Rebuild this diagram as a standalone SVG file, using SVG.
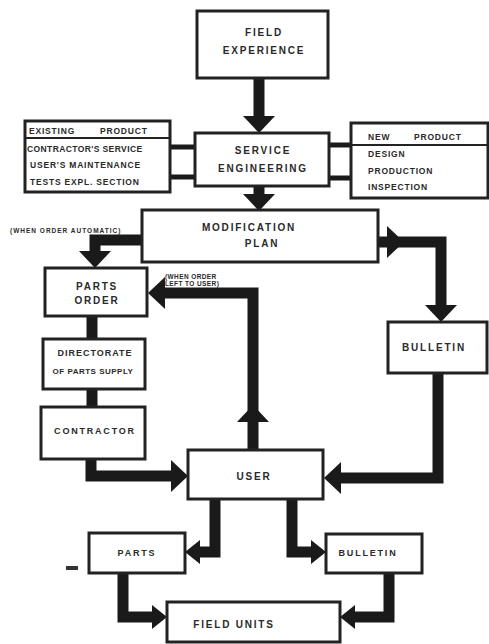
<svg xmlns="http://www.w3.org/2000/svg" xmlns:xlink="http://www.w3.org/1999/xlink" width="489" height="644" viewBox="0 0 489 644">
<style>
.box{fill:#fff;stroke:#222;stroke-width:3}
.t{font-family:"Liberation Sans",Arial,sans-serif;font-weight:bold;fill:#2a2a2a;font-size:10px;letter-spacing:1.8px;text-anchor:middle}
.s{font-family:"Liberation Sans",Arial,sans-serif;font-weight:bold;fill:#2a2a2a;font-size:8.5px;letter-spacing:0.8px}
.n{font-family:"Liberation Sans",Arial,sans-serif;font-weight:bold;fill:#2a2a2a;font-size:6.5px;letter-spacing:0.4px}
.c{fill:none;stroke:#1a1a1a;stroke-width:11;stroke-linejoin:miter}
.l{fill:none;stroke:#1a1a1a;stroke-width:5}
.h{fill:#1a1a1a}
</style>
<defs>
<path id="ah" d="M0,0 L-17,-16 L-17,16 Z"/>
<path id="ahs" d="M0,0 L-15,-12 L-15,12 Z"/>
</defs>
<rect width="489" height="644" fill="#fff"/>
<g id="connectors">
<path class="c" d="M259,78 V118"/>
<use href="#ah" class="h" transform="translate(259,133) rotate(90)"/>
<path class="c" d="M259,186 V196"/>
<use href="#ah" class="h" transform="translate(259,211) rotate(90)"/>
<path class="l" d="M168,147 H196 M168,177 H196"/>
<path class="l" d="M329,145 H352 M329,178 H352"/>
<path class="c" d="M143,240 H95 V253"/>
<use href="#ah" class="h" transform="translate(95,268) rotate(90)"/>
<path class="c" d="M377,242 H441 V307"/>
<use href="#ah" class="h" transform="translate(404,242)"/>
<use href="#ah" class="h" transform="translate(441,322) rotate(90)"/>
<path class="c" d="M253,450 V293 H163"/>
<use href="#ah" class="h" transform="translate(148,293) rotate(180)"/>
<use href="#ah" class="h" transform="translate(253,405) rotate(-90)"/>
<path class="c" d="M92,316 V339"/>
<path class="c" d="M92,389 V407"/>
<path class="c" d="M91,459 V476 H173"/>
<use href="#ah" class="h" transform="translate(188,476)"/>
<path class="c" d="M438,372 V478 H340"/>
<use href="#ah" class="h" transform="translate(324,478) rotate(180)"/>
<path class="c" d="M215,499 V552 H199"/>
<use href="#ahs" class="h" transform="translate(185,552) rotate(180)"/>
<path class="c" d="M292,499 V552 H312"/>
<use href="#ahs" class="h" transform="translate(326,552)"/>
<path class="c" d="M123,573 V617 H153"/>
<use href="#ahs" class="h" transform="translate(167,617)"/>
<path class="c" d="M389,573 V617 H354"/>
<use href="#ahs" class="h" transform="translate(340,617) rotate(180)"/>
<rect x="66" y="566" width="12" height="4" fill="#333"/>
</g>
<g id="field-experience">
<rect class="box" x="197" y="11" width="131" height="67"/>
<text class="t" x="264" y="36">FIELD</text>
<text class="t" x="264" y="54">EXPERIENCE</text>
</g>
<g id="existing-product">
<rect class="box" x="25" y="121" width="145" height="71"/>
<line x1="25" y1="138" x2="170" y2="138" stroke="#222" stroke-width="2"/>
<text class="s" x="29" y="134">EXISTING</text>
<text class="s" x="100" y="134">PRODUCT</text>
<text class="s" x="27" y="152" style="letter-spacing:0.4px">CONTRACTOR'S SERVICE</text>
<text class="s" x="30" y="168">USER'S MAINTENANCE</text>
<text class="s" x="30" y="185">TESTS EXPL. SECTION</text>
</g>
<g id="service-engineering">
<rect class="box" x="195" y="133" width="134" height="53"/>
<text class="t" x="263" y="154">SERVICE</text>
<text class="t" x="263" y="172">ENGINEERING</text>
</g>
<g id="new-product">
<rect class="box" x="351" y="123" width="137" height="75"/>
<line x1="351" y1="145" x2="488" y2="145" stroke="#222" stroke-width="2"/>
<text class="s" x="368" y="140">NEW</text>
<text class="s" x="414" y="140">PRODUCT</text>
<text class="s" x="368" y="157">DESIGN</text>
<text class="s" x="368" y="174">PRODUCTION</text>
<text class="s" x="368" y="190">INSPECTION</text>
</g>
<g id="modification-plan">
<rect class="box" x="142" y="210" width="236" height="52"/>
<text class="t" x="249" y="231">MODIFICATION</text>
<text class="t" x="262" y="247">PLAN</text>
<text class="n" x="10" y="233" style="letter-spacing:1px">(WHEN ORDER AUTOMATIC)</text>
</g>
<g id="parts-order">
<rect class="box" x="45" y="268" width="102" height="48"/>
<text class="t" x="97" y="290">PARTS</text>
<text class="t" x="97" y="304">ORDER</text>
<text class="n" x="165" y="279">(WHEN ORDER</text>
<text class="n" x="165" y="286">LEFT TO USER)</text>
</g>
<g id="directorate">
<rect class="box" x="43" y="339" width="102" height="50"/>
<text class="t" x="95" y="356" style="font-size:9px;letter-spacing:1px">DIRECTORATE</text>
<text class="t" x="93" y="374" style="font-size:8px;letter-spacing:0.5px">OF PARTS SUPPLY</text>
</g>
<g id="contractor">
<rect class="box" x="41" y="407" width="104" height="52"/>
<text class="t" x="95" y="434" style="font-size:9px">CONTRACTOR</text>
</g>
<g id="bulletin">
<rect class="box" x="388" y="322" width="99" height="51"/>
<text class="t" x="434" y="351">BULLETIN</text>
</g>
<g id="user">
<rect class="box" x="188" y="450" width="135" height="49"/>
<text class="t" x="254" y="480">USER</text>
</g>
<g id="parts">
<rect class="box" x="89" y="533" width="96" height="40"/>
<text class="t" x="137" y="556" style="font-size:9px">PARTS</text>
</g>
<g id="bulletin-2">
<rect class="box" x="326" y="534" width="96" height="39"/>
<text class="t" x="368" y="556" style="font-size:9px">BULLETIN</text>
</g>
<g id="field-units">
<rect class="box" x="167" y="602" width="173" height="40"/>
<text class="t" x="234" y="628">FIELD UNITS</text>
</g>
</svg>
